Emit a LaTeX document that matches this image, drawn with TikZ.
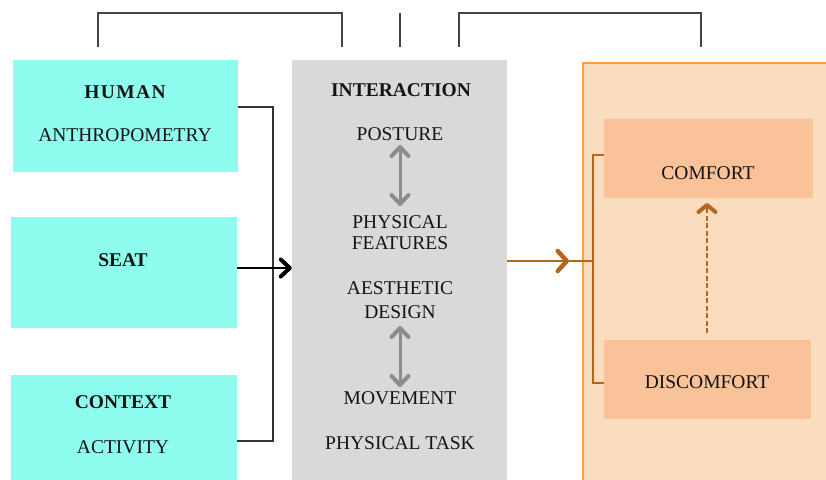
\documentclass[tikz,border=0pt]{standalone}
\usepackage{fontspec}
\setmainfont{Liberation Serif}
\usetikzlibrary{arrows.meta}
\definecolor{cyanfill}{HTML}{8EFCEE}
\definecolor{greyfill}{HTML}{D9D9D9}
\definecolor{peach}{HTML}{F9DDBE}
\definecolor{peachedge}{HTML}{F5A04A}
\definecolor{salmon}{HTML}{F9C298}
\definecolor{brownline}{HTML}{B5651D}
\definecolor{greyarrow}{HTML}{8C8C8C}
\definecolor{inkdark}{HTML}{141414}
\definecolor{bracketgrey}{HTML}{444444}
\tikzset{
  lbl/.style={font=\fontsize{19.5}{21}\selectfont, text=inkdark, inner sep=0pt},
  bold/.style={lbl, font=\fontsize{19.5}{21}\selectfont\bfseries},
  cyanbox/.style={fill=cyanfill, draw=none, inner sep=0pt},
  greybox/.style={fill=greyfill, draw=none, inner sep=0pt},
  salmonbox/.style={fill=salmon, draw=none, inner sep=0pt},
  bracket/.style={draw=bracketgrey, line width=1.3pt},
  conn/.style={draw=black!80, line width=1.3pt},
  blackarrow/.style={draw=black, line width=2pt, -{Straight Barb[length=9pt,width=17pt,line width=4pt,round]}},
  greyarrows/.style={draw=greyarrow, line width=3pt, {Straight Barb[length=9pt,width=17pt,line width=4pt,round]}-{Straight Barb[length=9pt,width=17pt,line width=4pt,round]}},
  brownarrow/.style={draw=brownline, line width=2pt, -{Straight Barb[length=9pt,width=20pt,line width=4.5pt,round]}},
  brownline/.style={draw=brownline, line width=1.3pt},
  dasharrow/.style={draw=brownline, line width=2pt, dash pattern=on 5pt off 2.5pt, -{Straight Barb[length=7pt,width=17pt,line width=4pt,round]}},
}
\begin{document}
\begin{tikzpicture}[x=1pt,y=-1pt]
\useasboundingbox (0,0) rectangle (826,479);

% top brackets
\draw[bracket] (98,47) -- (98,13) -- (342,13) -- (342,47);
\draw[bracket] (400,13) -- (400,47);
\draw[bracket] (459,47) -- (459,13) -- (701,13) -- (701,47);

% left column boxes
\node[cyanbox, minimum width=225pt, minimum height=112pt] (human) at (125.5,116) {};
\node[cyanbox, minimum width=226pt, minimum height=111pt] (seat) at (124,272.5) {};
\node[cyanbox, minimum width=226pt, minimum height=112pt] (context) at (124,431) {};
\node[bold] (humant) at (125,92) {\addfontfeature{LetterSpace=7}HUMAN};
\node[lbl] (anthro) at (125,135) {ANTHROPOMETRY};
\node[bold] (seatt) at (123,260) {SEAT};
\node[bold] (contextt) at (123,402) {CONTEXT};
\node[lbl] (activity) at (123,447) {ACTIVITY};

% interaction column
\node[greybox, minimum width=215pt, minimum height=440pt, anchor=north] (inter) at (399.5,60) {};
\node[bold] (intert) at (401,90) {INTERACTION};
\node[lbl] (posture) at (400,134) {POSTURE};
\node[lbl, align=center, font=\fontsize{19.5}{21.5}\selectfont] (physf) at (400,232.5) {PHYSICAL\\FEATURES};
\node[lbl, align=center, font=\fontsize{19.5}{23.5}\selectfont] (aesth) at (400,300) {AESTHETIC\\DESIGN};
\node[lbl] (movement) at (400,398) {MOVEMENT};
\node[lbl] (task) at (400,443) {PHYSICAL TASK};
\coordinate (a1t) at (400,145);
\coordinate (a1b) at (400,206);
\coordinate (a2t) at (400,326);
\coordinate (a2b) at (400,387);
\draw[greyarrows] (a1t) -- (a1b);
\draw[greyarrows] (a2t) -- (a2b);

% left connectors
\coordinate (jtop) at (273,107);
\coordinate (jbot) at (273,441);
\draw[conn] (human.east |- jtop) -- (jtop) -- (jbot) -- (context.east |- jbot);
\coordinate (seatout) at (237,268);
\draw[blackarrow] (seatout) -- (inter.west |- seatout);

% outcome panel
\node[fill=peach, draw=peachedge, line width=1.5pt, minimum width=260pt, minimum height=440pt, anchor=north west, inner sep=0pt] (panel) at (582,62) {};
\node[salmonbox, minimum width=209pt, minimum height=79pt] (comfort) at (708.5,158.5) {};
\node[salmonbox, minimum width=207pt, minimum height=79pt] (discomfort) at (707.5,379.5) {};
\node[lbl] (comfortt) at (708,173) {COMFORT};
\node[lbl] (discomfortt) at (707,382) {DISCOMFORT};
\coordinate (dstart) at (707,333);
\coordinate (dend) at (707,203);
\draw[dasharrow] (dstart) -- (dend);

% bracket and arrow into outcomes
\coordinate (btop) at (593,155);
\coordinate (bbot) at (593,383);
\coordinate (bmid) at (593,261);
\coordinate (tip) at (569,261);
\draw[brownline] (comfort.west |- btop) -- (btop) -- (bbot) -- (discomfort.west |- bbot);
\draw[brownline] (tip) -- (bmid);
\draw[brownarrow] (inter.east |- tip) -- (tip);
\end{tikzpicture}
\end{document}
